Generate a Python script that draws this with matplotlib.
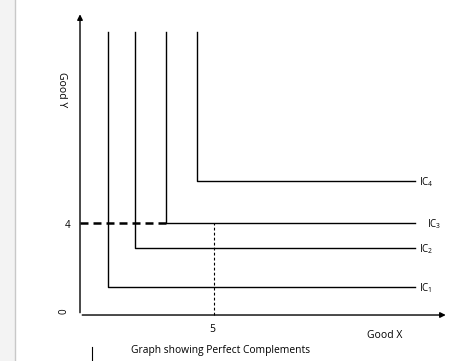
import matplotlib.pyplot as plt
from matplotlib.patches import Rectangle
from matplotlib.lines import Line2D

plt.rcParams['font.family'] = ['Open Sans', 'DejaVu Sans']
plt.rcParams['mathtext.fontset'] = 'custom'
plt.rcParams['mathtext.rm'] = 'Open Sans'

# indifference curves (L-shaped): corner x, corner y
ic_names = ["IC$_1$", "IC$_2$", "IC$_3$", "IC$_4$"]
corner_x = [1.05, 2.05, 3.2, 4.35]
corner_y = [1.22, 2.9, 4.0, 5.83]
label_dx = [0.15, 0.15, 0.45, 0.15]
top_y = 12.3
right_x = 12.5

# marked bundle
bundle_x = 5
bundle_y = 4

fig = plt.figure(figsize=(4.63, 3.61), dpi=100)
ax = fig.add_axes([0, 0, 1, 1])
ax.set_xlim(-2.985, 14.29)
ax.set_ylim(-2.0, 13.70)
ax.axis('off')

# page edge of the document screenshot
fig.patches.append(Rectangle((0, 0), 15 / 463, 1, transform=fig.transFigure,
                             facecolor='#f3f3f3', edgecolor='none'))
fig.lines.append(Line2D([15 / 463, 15 / 463], [0, 1], transform=fig.transFigure,
                        color='#c8c8c8', lw=1))
fig.lines.append(Line2D([92 / 463, 92 / 463], [0, 14 / 361], transform=fig.transFigure,
                        color='black', lw=0.8))

# axes with arrows
ax.annotate('', xy=(0, 13.2), xytext=(0, -0.02),
            arrowprops=dict(arrowstyle='-|>', color='black', lw=1, mutation_scale=8))
ax.annotate('', xy=(13.75, 0), xytext=(-0.02, 0),
            arrowprops=dict(arrowstyle='-|>', color='black', lw=1, mutation_scale=8))

for name, cx, cy, dx in zip(ic_names, corner_x, corner_y, label_dx):
    ax.plot([cx, cx, right_x], [top_y, cy, cy], color='black', lw=1)
    ax.text(right_x + dx, cy - 0.05, name, fontsize=7, va='center', ha='left')

ax.plot([0, corner_x[2]], [bundle_y, bundle_y], color='black', lw=1.8,
        dashes=(3.2, 2.0))
ax.plot([bundle_x, bundle_x], [0, bundle_y], color='black', lw=0.8,
        dashes=(2.5, 2))

ax.text(-0.35, bundle_y - 0.1, '4', fontsize=7, ha='right', va='center')
ax.text(-0.4, 0.15, '0', fontsize=7, ha='right', va='center', rotation=90)
ax.text(bundle_x - 0.05, -0.4, '5', fontsize=7.5, ha='center', va='top')
ax.text(11.35, -0.65, 'Good X', fontsize=7.5, ha='center', va='top')
ax.text(-0.5, 9.8, 'Good Y', fontsize=7.5, ha='right', va='center', rotation=-90)
ax.text(5.25, -1.55, 'Graph showing Perfect Complements', fontsize=7.4,
        ha='center', va='center')

fig.savefig('out.png', dpi=100)
